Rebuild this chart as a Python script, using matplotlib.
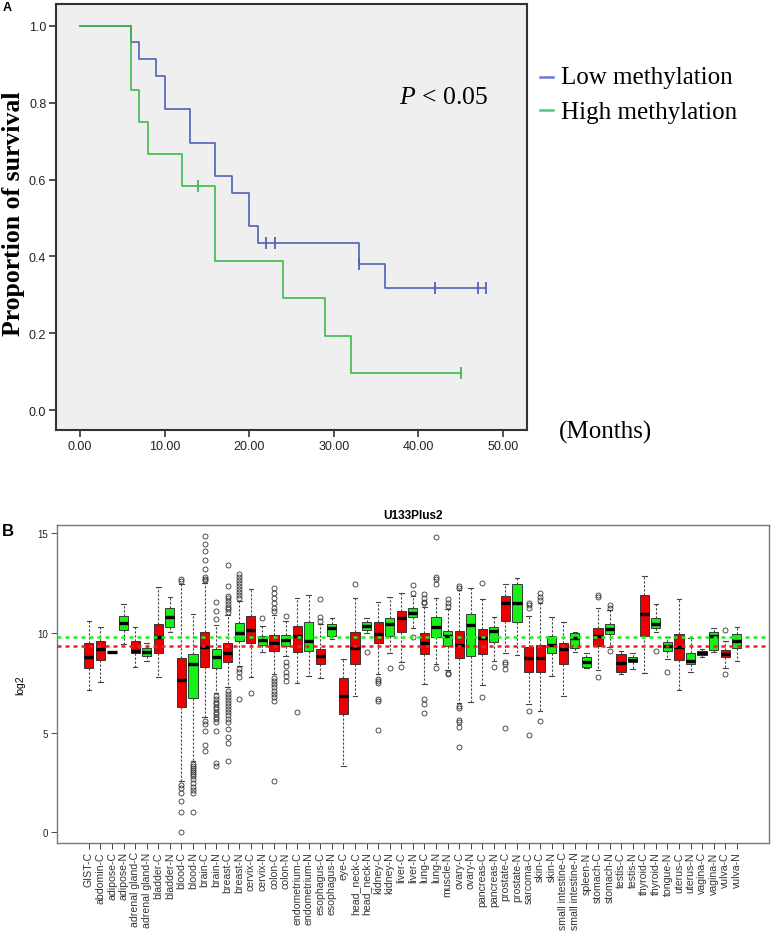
import matplotlib
matplotlib.use("Agg")
import matplotlib.pyplot as plt
from matplotlib.lines import Line2D

plt.rcParams["mathtext.fontset"] = "custom"
plt.rcParams["mathtext.rm"] = "Liberation Serif"
plt.rcParams["mathtext.it"] = "Liberation Serif:italic"

W, H = 777, 937
SANS = "Liberation Sans"
SERIF = "Liberation Serif"

# ---------------- Panel A data (Kaplan-Meier) ----------------
low_times = [0, 6, 7, 9, 10, 13, 16, 18, 20, 21, 33, 36, 48]
low_surv = [1.0, 0.957, 0.913, 0.870, 0.783, 0.696, 0.609, 0.565, 0.478, 0.435, 0.380, 0.317, 0.317]
low_cens_t = [22, 23, 33, 42, 47, 48]
low_cens_s = [0.435, 0.435, 0.380, 0.317, 0.317, 0.317]

high_times = [0, 6, 7, 8, 12, 16, 24, 29, 32, 45]
high_surv = [1.0, 0.833, 0.750, 0.667, 0.583, 0.389, 0.292, 0.194, 0.097, 0.097]
high_cens_t = [14, 45]
high_cens_s = [0.583, 0.097]

xticks_a = [0, 10, 20, 30, 40, 50]
yticks_a = [0.0, 0.2, 0.4, 0.6, 0.8, 1.0]

# ---------------- Panel B data (boxplot stats) ----------------
categories = ["GIST-C", "abdomin-C", "adipose-C", "adipose-N", "adrenal gland-C", "adrenal gland-N",
              "bladder-C", "bladder-N", "blood-C", "blood-N", "brain-C", "brain-N", "breast-C", "breast-N",
              "cervix-C", "cervix-N", "colon-C", "colon-N", "endometrium-C", "endometrium-N",
              "esophagus-C", "esophagus-N", "eye-C", "head_neck-C", "head_neck-N", "kidney-C", "kidney-N",
              "liver-C", "liver-N", "lung-C", "lung-N", "muscle-N", "ovary-C", "ovary-N", "pancreas-C",
              "pancreas-N", "prostate-C", "prostate-N", "sarcoma-C", "skin-C", "skin-N",
              "small intestine-C", "small intestine-N", "spleen-N", "stomach-C", "stomach-N", "testis-C",
              "testis-N", "thyroid-C", "thyroid-N", "tongue-N", "uterus-C", "uterus-N", "vagina-C",
              "vagina-N", "vulva-C", "vulva-N"]

whisker_low = [7.13, 7.56, 9.05, 9.42, 8.27, 8.60, 7.80, 10.05, 2.60, 3.60, 5.80, 7.00, 7.30, 8.35,
               7.80, 9.05, 7.93, 8.85, 7.48, 7.85, 7.73, 9.68, 3.31, 6.85, 9.99, 7.93, 8.97,
               8.55, 10.22, 7.46, 8.43, 8.15, 6.51, 6.56, 7.40, 8.60, 8.97, 8.88, 6.43, 6.09, 7.85,
               6.85, 9.05, 8.23, 8.15, 9.27, 7.96, 8.18, 7.98, 10.05, 8.68, 7.13, 8.02, 8.77,
               9.05, 8.22, 8.60]
q1_vals = [8.22, 8.63, 9.05, 10.15, 8.98, 8.85, 8.98, 10.30, 6.26, 6.76, 8.30, 8.22, 8.52, 9.57,
           9.48, 9.38, 9.07, 9.35, 9.03, 9.10, 8.43, 9.82, 5.91, 8.45, 10.12, 9.47, 9.85,
           10.05, 10.77, 8.93, 9.77, 9.32, 8.73, 8.85, 8.93, 9.55, 10.57, 10.55, 8.05, 8.05, 8.97,
           8.42, 9.22, 8.30, 9.35, 9.92, 8.05, 8.52, 9.82, 10.22, 9.07, 8.65, 8.42, 8.87,
           9.15, 8.77, 9.22]
median_vals = [8.77, 9.17, 9.05, 10.50, 9.07, 9.02, 9.77, 10.77, 7.63, 8.43, 9.28, 8.77, 9.00, 9.99,
               10.12, 9.64, 9.48, 9.64, 9.85, 9.58, 8.82, 10.22, 6.83, 9.25, 10.35, 9.95, 10.42,
               10.75, 11.02, 9.48, 10.27, 9.82, 9.40, 10.39, 9.75, 10.10, 11.49, 11.52, 8.73, 8.73, 9.40,
               9.18, 9.72, 8.55, 9.82, 10.19, 8.48, 8.65, 10.94, 10.44, 9.35, 9.27, 8.57, 8.97,
               9.85, 8.95, 9.60]
q3_vals = [9.48, 9.58, 9.05, 10.84, 9.58, 9.22, 10.44, 11.27, 8.73, 8.93, 10.05, 9.17, 9.48, 10.49,
           10.84, 9.84, 9.89, 9.90, 10.32, 10.52, 9.18, 10.42, 7.73, 10.05, 10.55, 10.52, 10.75,
           11.12, 11.27, 9.97, 10.77, 10.10, 10.10, 10.94, 10.19, 10.30, 11.86, 12.47, 9.30, 9.40, 9.82,
           9.48, 9.99, 8.77, 10.25, 10.44, 8.95, 8.77, 11.89, 10.72, 9.52, 9.94, 8.98, 9.07,
           10.05, 9.15, 9.95]
whisker_high = [10.57, 10.30, 9.05, 11.46, 10.29, 9.47, 12.29, 11.82, 12.45, 10.94, 12.50, 10.40, 10.90, 11.60,
                12.19, 10.35, 10.90, 10.60, 11.74, 11.92, 10.44, 10.74, 8.68, 11.74, 10.75, 11.56, 11.81,
                11.99, 11.86, 11.30, 11.74, 11.20, 12.15, 12.27, 11.72, 10.80, 12.47, 12.74, 10.85, 11.50, 10.80,
                10.55, 10.05, 8.98, 11.27, 11.15, 9.10, 8.98, 12.86, 11.44, 9.77, 11.69, 9.74, 9.18,
                10.22, 9.60, 10.29]
outliers = [
    [], [], [], [], [], [], [], [],
    [12.62, 12.72, 2.37, 2.25, 2.00, 1.59, 1.00, 0.00],
    [3.45, 3.35, 3.25, 3.15, 3.05, 2.95, 2.85, 2.70, 2.50, 2.30, 2.15, 1.97, 1.00],
    [12.65, 12.72, 12.80, 13.19, 13.64, 14.08, 14.44, 14.83, 5.60, 5.45, 5.10, 4.39, 4.09],
    [10.69, 11.10, 11.56, 6.85, 6.70, 6.55, 6.43, 6.30, 6.18, 6.05, 5.93, 5.80, 5.68, 5.51, 5.06, 3.47, 3.34],
    [11.05, 11.19, 11.30, 11.45, 11.60, 11.75, 11.86, 12.36, 13.39, 7.10, 6.95, 6.80, 6.65, 6.50, 6.35,
     6.20, 6.05, 5.90, 5.70, 5.55, 5.20, 4.80, 4.50, 3.60],
    [11.75, 11.90, 12.05, 12.20, 12.35, 12.50, 12.65, 12.80, 12.94, 8.18, 8.05, 7.80, 6.68],
    [7.01],
    [10.72],
    [11.10, 11.27, 11.52, 11.77, 12.02, 12.24, 7.76, 7.60, 7.43, 7.27, 7.10, 6.93, 6.77, 6.60, 2.59],
    [10.82, 8.52, 8.35, 8.05, 7.85, 7.60],
    [6.04],
    [],
    [10.60, 10.77, 11.72],
    [],
    [],
    [12.47],
    [9.02],
    [7.71, 7.60, 7.51, 6.71, 6.60, 5.14],
    [8.23],
    [8.27],
    [12.02, 12.39, 9.77],
    [11.52, 11.57, 11.77, 11.94, 6.68, 6.43, 5.98],
    [12.44, 12.72, 12.81, 14.78, 8.22],
    [11.36, 11.52, 11.69, 8.00, 7.93],
    [12.27, 12.36, 6.35, 6.21, 5.64, 5.51, 5.29, 4.26],
    [],
    [12.52, 6.80],
    [8.30],
    [8.55, 8.43, 8.18, 5.21],
    [],
    [11.24, 11.39, 11.52, 6.09, 4.89],
    [11.64, 11.81, 12.02, 5.56],
    [],
    [],
    [],
    [],
    [11.81, 11.92, 7.80],
    [11.27, 11.39, 9.07],
    [],
    [],
    [],
    [9.07],
    [8.05],
    [],
    [],
    [],
    [],
    [10.15, 7.92],
    [],
]
mean_normal = 9.80   # green dashed reference line
mean_cancer = 9.32   # red dashed reference line
yticks_b = [0, 5, 10, 15]

# ---------------- Figure ----------------
fig = plt.figure(figsize=(W / 100, H / 100), dpi=100)


def frac_box(left, top, right, bottom):
    return [left / W, 1 - bottom / H, (right - left) / W, (bottom - top) / H]


# ----- Panel A -----
axA = fig.add_axes(frac_box(56, 5, 527, 431))
axA.set_facecolor("#efefef")
blue = "#4f62b8"
green = "#3dbb4e"
axA.step(low_times, low_surv, where="post", color=blue, lw=1.2, zorder=3)
axA.plot(low_cens_t, low_cens_s, ls="none", marker="|", ms=8, mew=1.3, color=blue, zorder=3)
axA.step(high_times, high_surv, where="post", color=green, lw=1.2, zorder=4)
axA.plot(high_cens_t, high_cens_s, ls="none", marker="|", ms=8, mew=1.3, color=green, zorder=4)

axA.set_xlim(-2.84, 52.84)
axA.set_ylim(-0.052, 1.057)
axA.set_xticks(xticks_a)
axA.set_xticklabels([f"{v:.2f}" for v in xticks_a], fontfamily=SANS, fontsize=9, color="#222222")
axA.set_yticks(yticks_a)
axA.set_yticklabels([f"{v:.1f}" for v in yticks_a], fontfamily=SANS, fontsize=9, color="#222222")
axA.tick_params(direction="out", length=5, width=1.2, color="#333333", pad=2)
for s in axA.spines.values():
    s.set_color("#333333")
    s.set_linewidth(1.5)

fig.text(14 / W, 1 - 214 / H, "Proportion of survival", rotation=90, ha="center", va="center",
         fontfamily=SERIF, fontweight="bold", fontsize=18.5)
fig.text(444 / W, 1 - 98 / H, r"$P$ < 0.05", ha="center", va="center",
         fontfamily=SERIF, fontsize=18.5)
fig.text(561 / W, 1 - 78 / H, "Low methylation", ha="left", va="center", fontfamily=SERIF, fontsize=18)
fig.text(561 / W, 1 - 113 / H, "High methylation", ha="left", va="center", fontfamily=SERIF, fontsize=18)
fig.add_artist(Line2D([540 / W, 553 / W], [1 - 78 / H, 1 - 78 / H], color="#6a7bcc", lw=1.8))
fig.add_artist(Line2D([540 / W, 553 / W], [1 - 111 / H, 1 - 111 / H], color="#4ccc72", lw=1.8))
fig.text(605 / W, 1 - 432 / H, "(Months)", ha="center", va="center", fontfamily=SERIF, fontsize=18)
fig.text(3 / W, 1 - 8 / H, "A", ha="left", va="center", fontfamily=SANS, fontweight="bold", fontsize=9)

# ----- Panel B -----
axB = fig.add_axes(frac_box(56.7, 525.7, 769, 844))
positions = list(range(1, len(categories) + 1))
stats = []
for i, name in enumerate(categories):
    stats.append(dict(med=median_vals[i], q1=q1_vals[i], q3=q3_vals[i],
                      whislo=whisker_low[i], whishi=whisker_high[i], fliers=outliers[i], label=name))
bp = axB.bxp(stats, positions=positions, widths=0.8, capwidths=0.4, patch_artist=True,
             showfliers=True,
             boxprops=dict(edgecolor="#222222", linewidth=0.6),
             medianprops=dict(color="black", linewidth=2.4),
             whiskerprops=dict(color="#444444", linewidth=0.8, linestyle=(0, (2, 1.6))),
             capprops=dict(color="#444444", linewidth=0.8),
             flierprops=dict(marker="o", markersize=3.6, markerfacecolor="none",
                             markeredgecolor="#333333", markeredgewidth=0.6))
for patch, name in zip(bp["boxes"], categories):
    patch.set_facecolor("#ee0000" if name.endswith("-C") else "#18ee18")

axB.axhline(mean_normal, color="#22ee22", lw=1.8, ls=(0, (1.6, 1.6)), zorder=5)
axB.axhline(mean_cancer, color="#ee2222", lw=1.8, ls=(0, (1.6, 1.6)), zorder=5)

axB.set_xlim(-1.78, 59.78)
axB.set_ylim(-0.53, 15.42)
axB.set_xticks(positions)
axB.set_xticklabels(categories, rotation=90, fontfamily=SANS, fontsize=7.6, color="#333333")
axB.set_yticks(yticks_b)
axB.set_yticklabels([str(v) for v in yticks_b], fontfamily=SANS, fontsize=7, color="#222222")
axB.tick_params(direction="out", length=4, width=0.7, color="#444444", pad=2)
for s in axB.spines.values():
    s.set_color("#777777")
    s.set_linewidth(1.0)
axB.set_title("U133Plus2", fontfamily=SANS, fontweight="bold", fontsize=8.5, pad=5)
axB.set_ylabel("log2", fontfamily=SANS, fontsize=7.5, labelpad=9)
fig.text(2 / W, 1 - 531 / H, "B", ha="left", va="center", fontfamily=SANS, fontweight="bold", fontsize=12)

fig.savefig("out.png", dpi=100)
